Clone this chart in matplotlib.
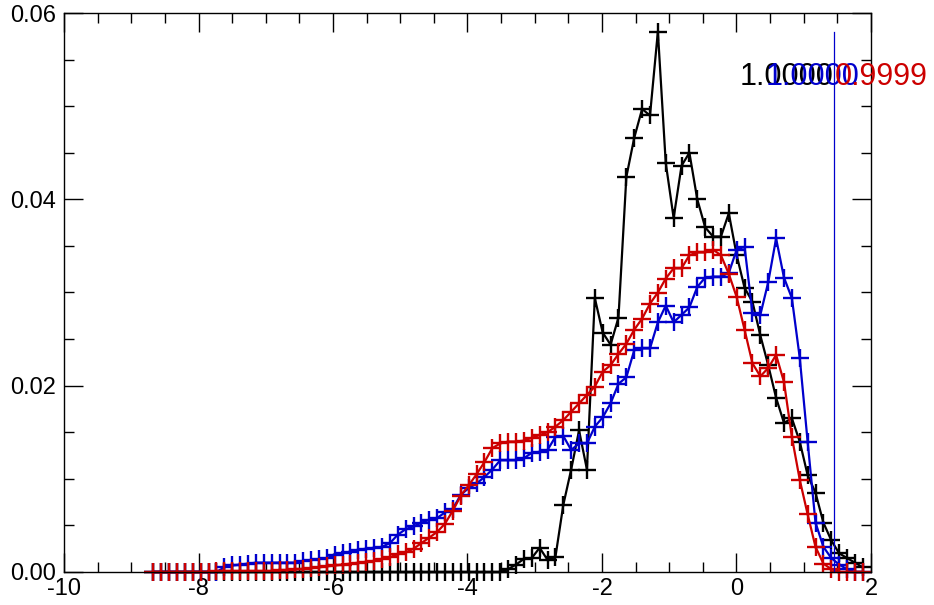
import matplotlib
matplotlib.use("Agg")
import matplotlib.pyplot as plt
import numpy as np
from matplotlib.ticker import MultipleLocator, FormatStrFormatter

plt.rcParams['font.family'] = ['Liberation Sans', 'DejaVu Sans']
plt.rcParams['axes.unicode_minus'] = False

# histogram bins (uniform)
BIN_START = -8.67
BIN_WIDTH = 0.1172
N_BINS = 91

black_vals = [0.0] * 45 + [
    0.0003, 0.0008, 0.0014, 0.0015, 0.0026, 0.0013, 0.0016, 0.0072, 0.0110, 0.0152,
    0.0110, 0.0294, 0.0257, 0.0244, 0.0273, 0.0424, 0.0466, 0.0497, 0.0490, 0.0580,
    0.0439, 0.0380, 0.0436, 0.0450, 0.0400, 0.0370, 0.0360, 0.0360, 0.0385, 0.0340,
    0.0305, 0.0290, 0.0254, 0.0222, 0.0187, 0.0160, 0.0165, 0.0140, 0.0104, 0.0085,
    0.0053, 0.0034, 0.0020, 0.0015, 0.0010, 0.0005,
]

blue_vals = [
    0.0, 0.0, 0.0, 0.0, 0.0, 0.0, 0.0, 0.0, 0.0, 0.0005,
    0.0007, 0.0008, 0.0009, 0.0010, 0.0010, 0.0010, 0.0010, 0.0010, 0.0010, 0.0012,
    0.0013, 0.0014, 0.0015, 0.0018, 0.0020, 0.0022, 0.0024, 0.0025, 0.0026, 0.0027,
    0.0031, 0.0040, 0.0046, 0.0049, 0.0053, 0.0056, 0.0058, 0.0064, 0.0068, 0.0083,
    0.0090, 0.0095, 0.0102, 0.0110, 0.0120, 0.0120, 0.0120, 0.0122, 0.0128, 0.0129,
    0.0131, 0.0145, 0.0146, 0.0131, 0.0138, 0.0138, 0.0156, 0.0166, 0.0181, 0.0202,
    0.0209, 0.0238, 0.0240, 0.0240, 0.0268, 0.0286, 0.0268, 0.0276, 0.0284, 0.0306,
    0.0316, 0.0317, 0.0317, 0.0321, 0.0346, 0.0349, 0.0278, 0.0276, 0.0311, 0.0358,
    0.0316, 0.0294, 0.0230, 0.0140, 0.0053, 0.0027, 0.0015, 0.0008, 0.0003, 0.0,
    0.0,
]

red_vals = [
    0.0, 0.0, 0.0, 0.0, 0.0, 0.0, 0.0, 0.0, 0.0001, 0.0001,
    0.0001, 0.0001, 0.0001, 0.0001, 0.0001, 0.0001, 0.0002, 0.0002, 0.0003, 0.0003,
    0.0004, 0.0005, 0.0006, 0.0007, 0.0008, 0.0009, 0.0010, 0.0011, 0.0012, 0.0014,
    0.0016, 0.0019, 0.0021, 0.0025, 0.0031, 0.0037, 0.0043, 0.0052, 0.0066, 0.0082,
    0.0093, 0.0105, 0.0118, 0.0133, 0.0138, 0.0140, 0.0140, 0.0141, 0.0144, 0.0147,
    0.0150, 0.0156, 0.0163, 0.0172, 0.0181, 0.0190, 0.0199, 0.0215, 0.0222, 0.0234,
    0.0245, 0.0260, 0.0272, 0.0288, 0.0300, 0.0315, 0.0326, 0.0326, 0.0340, 0.0343,
    0.0343, 0.0346, 0.0340, 0.0320, 0.0295, 0.0260, 0.0224, 0.0210, 0.0219, 0.0233,
    0.0204, 0.0145, 0.0099, 0.0062, 0.0027, 0.0009, 0.0003, 0.0, 0.0, 0.0,
    0.0,
]

labels = ["1.0000", "1.0000", "0.9999"]
label_x = [0.04, 0.44, 1.46]
label_y = 0.0523
vline_x = 1.45
vline_top = 0.058

colors = ["black", "#0000cc", "#cc0000"]


def main():
    x = BIN_START + BIN_WIDTH * np.arange(N_BINS)

    fig = plt.figure(figsize=(9.34, 6.05), dpi=100)
    ax = fig.add_axes([64 / 934, 1 - 572 / 605, (871 - 64) / 934, (572 - 13) / 605])

    for vals, c in zip([black_vals, blue_vals, red_vals], colors):
        ax.plot(x, vals, color=c, lw=1.6, marker='+', ms=13, mew=1.7, clip_on=False)

    ax.plot([vline_x, vline_x], [0, vline_top], color=colors[1], lw=0.9)

    for s, lx, c in zip(labels, label_x, colors):
        ax.text(lx, label_y, s, color=c, fontsize=22, ha='left', va='baseline', clip_on=False)

    ax.set_xlim(-10, 2)
    ax.set_ylim(0, 0.06)
    ax.xaxis.set_major_locator(MultipleLocator(2))
    ax.xaxis.set_minor_locator(MultipleLocator(0.5))
    ax.yaxis.set_major_locator(MultipleLocator(0.02))
    ax.yaxis.set_minor_locator(MultipleLocator(0.005))
    ax.yaxis.set_major_formatter(FormatStrFormatter('%.2f'))
    ax.tick_params(which='both', direction='in', top=True, right=True, labelsize=17, width=1)
    ax.tick_params(which='major', length=14)
    ax.tick_params(which='minor', length=7)
    ax.tick_params(axis='x', pad=4)
    ax.tick_params(axis='y', pad=6)
    for sp in ax.spines.values():
        sp.set_linewidth(1)

    fig.savefig("out.png", dpi=100)


if __name__ == "__main__":
    main()
